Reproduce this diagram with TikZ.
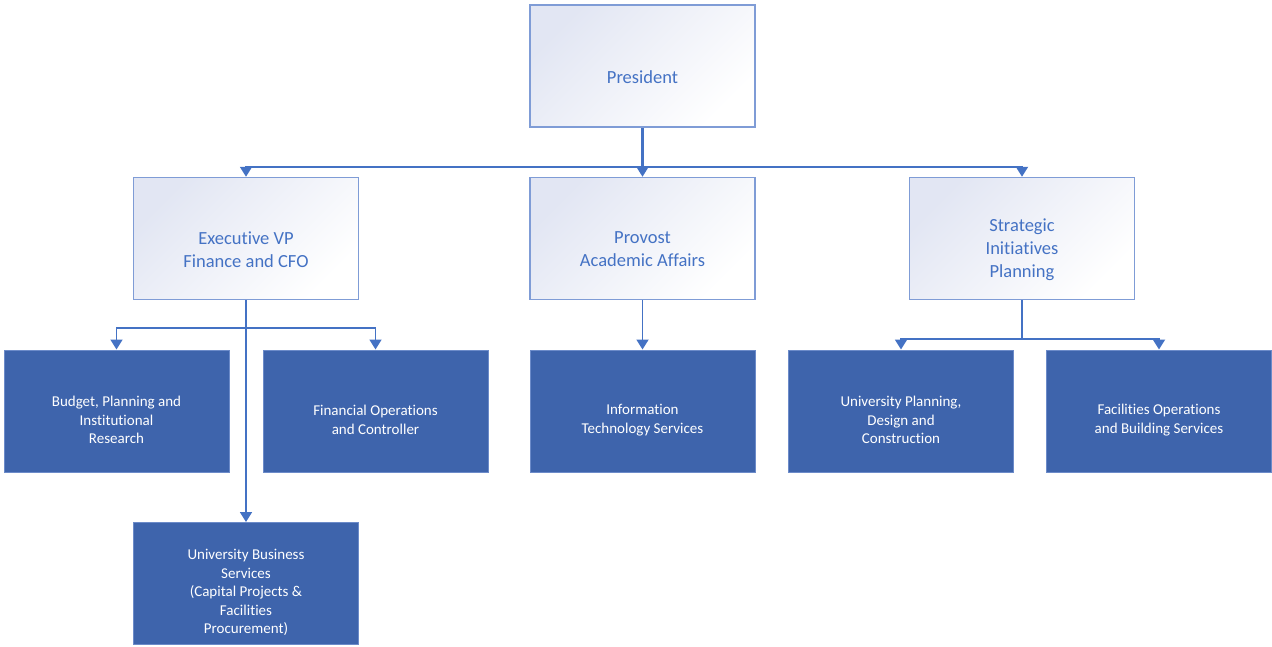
\documentclass[tikz,border=0pt]{standalone}
\usepackage{fontspec}
\setmainfont{Carlito}[Ligatures=NoCommon]
\usetikzlibrary{arrows.meta, positioning, calc}
\definecolor{linkblue}{HTML}{4472C4}
\definecolor{edgeblue}{HTML}{7F9CD6}
\definecolor{unitblue}{HTML}{3E64AC}
\definecolor{haze}{HTML}{E2E6F3}
\tikzset{%
	head/.style={draw=edgeblue, line width=1.5pt, minimum width=225pt, minimum height=122pt,%
		inner sep=0pt, top color=haze, bottom color=white, shading angle=45},
	headtext/.style={align=center, text=linkblue, yshift=-11pt, font=\fontsize{18.5}{23}\selectfont},
	unit/.style={draw=edgeblue!70!unitblue, line width=1pt, fill=unitblue, minimum width=225pt,%
		minimum height=122pt, inner sep=0pt},
	unittext/.style={align=center, text=white, yshift=-9pt, font=\fontsize{15}{18.5}\selectfont},
	sel/.style={-{Triangle[width=12pt,length=10pt]}, draw=linkblue, line width=1.8pt},
	trunk/.style={draw=linkblue, line width=2.6pt}
}
\begin{document}
\begin{tikzpicture}[x=1pt, y=-1pt]
	\useasboundingbox (0,0) rectangle (1272,646);

	\node[head, label={[headtext]center:{President}}] (pres) at (642.5,66) {};
	\node[head, label={[headtext]center:{Executive VP\\Finance and CFO}}] (evp) at (246,238.5) {};
	\node[head, label={[headtext]center:{Provost\\Academic Affairs}}] (prov) at (642.5,238.5) {};
	\node[head, label={[headtext]center:{Strategic\\Initiatives\\Planning}}] (strat) at (1022,238.5) {};

	\node[unit, label={[unittext]center:{Budget, Planning and\\Institutional\\Research}}] (budget) at (116.5,411) {};
	\node[unit, label={[unittext]center:{Financial Operations\\and Controller}}] (finops) at (375.5,411) {};
	\node[unit, label={[unittext]center:{Information\\Technology Services}}] (its) at (642.5,411) {};
	\node[unit, label={[unittext]center:{University Planning,\\Design and\\Construction}}] (updc) at (901,411) {};
	\node[unit, label={[unittext]center:{Facilities Operations\\and Building Services}}] (fobs) at (1159,411) {};
	\node[unit, label={[unittext]center:{University Business\\Services\\(Capital Projects \&\\Facilities\\Procurement)}}] (ubs) at (246,583.5) {};

	% bus rails
	\coordinate (topbus)   at ($(pres.south)+(0,39)$);
	\coordinate (finbus)   at ($(evp.south)+(0,28)$);
	\coordinate (stratbus) at ($(strat.south)+(0,39)$);

	\draw[trunk] (pres) -- (topbus);
	\draw[sel] (topbus) -| (evp);
	\draw[sel] (topbus) -- (prov);
	\draw[sel] (topbus) -| (strat);

	\draw[sel] (evp) -- (ubs);
	\draw[sel] (finbus) -| (budget);
	\draw[sel] (finbus) -| (finops);

	\draw[sel] (prov) -- (its);

	\draw[sel] (strat) -- (stratbus) -| (updc);
	\draw[sel] (stratbus) -| (fobs);
\end{tikzpicture}
\end{document}
